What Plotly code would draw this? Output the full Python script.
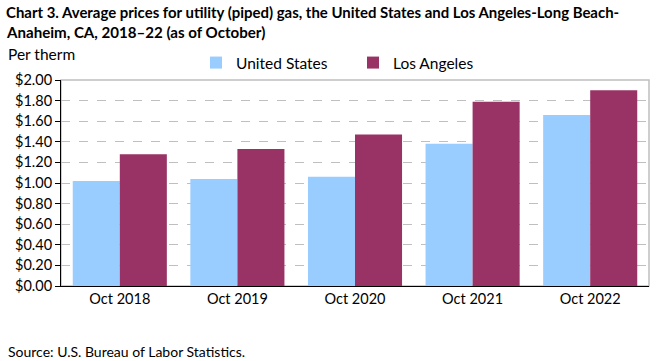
import plotly.graph_objects as go

categories = ["Oct 2018", "Oct 2019", "Oct 2020", "Oct 2021", "Oct 2022"]
us_values = [1.02, 1.04, 1.06, 1.38, 1.66]
la_values = [1.28, 1.33, 1.47, 1.79, 1.90]
y_ticks = [0, 0.2, 0.4, 0.6, 0.8, 1.0, 1.2, 1.4, 1.6, 1.8, 2.0]

FONT = "Lato"
W, H = 661, 361
ML, MR, MT, MB = 61, 12, 80, 75
PW, PH = W - ML - MR, H - MT - MB


def px_x(x):
    return (x - ML) / PW


def px_y(y):
    return (H - MB - y) / PH


fig = go.Figure()
fig.add_trace(go.Bar(x=categories, y=us_values, name="United States",
                     marker=dict(color="#99CCFF", line=dict(width=0))))
fig.add_trace(go.Bar(x=categories, y=la_values, name="Los Angeles",
                     marker=dict(color="#993366", line=dict(width=0))))

fig.update_layout(
    width=W, height=H,
    margin=dict(l=ML, r=MR, t=MT, b=MB, autoexpand=False),
    paper_bgcolor="white", plot_bgcolor="white",
    font=dict(family=FONT, size=14, color="#000000"),
    barmode="group", bargap=0.2, bargroupgap=0,
    legend=dict(orientation="h", x=px_x(196), xanchor="left", y=px_y(63), yanchor="middle",
                font=dict(family=FONT, size=15.5), traceorder="normal",
                entrywidth=112, entrywidthmode="pixels",
                bgcolor="rgba(0,0,0,0)", borderwidth=0),
    showlegend=True,
    xaxis=dict(showline=True, linecolor="#000000", linewidth=1, ticks="",
               tickfont=dict(family=FONT, size=14.5), showgrid=False, zeroline=False,
               automargin=False),
    yaxis=dict(range=[0, 2.0], tickvals=y_ticks, tickformat="$.2f",
               showline=True, linecolor="#000000", linewidth=1,
               ticks="outside", ticklen=5, tickcolor="#000000",
               showgrid=True, gridcolor="#BFBFBF", griddash="dash", gridwidth=1,
               zeroline=False, tickfont=dict(family=FONT, size=14.5), automargin=False),
    shapes=[dict(type="rect", xref="paper", yref="paper", x0=0, x1=1, y0=0, y1=1,
                 line=dict(color="#BFBFBF", width=1.5), layer="below")],
    annotations=[
        dict(text="<b>Chart 3. Average prices for utility (piped) gas, the United States and Los Angeles-Long Beach-</b>",
             xref="paper", yref="paper", x=px_x(4), y=px_y(12), xanchor="left", yanchor="middle",
             showarrow=False, font=dict(family=FONT, size=14.95)),
        dict(text="<b>Anaheim, CA, 2018–22 (as of October)</b>",
             xref="paper", yref="paper", x=px_x(4), y=px_y(32), xanchor="left", yanchor="middle",
             showarrow=False, font=dict(family=FONT, size=15.1)),
        dict(text="Per therm", xref="paper", yref="paper", x=px_x(6), y=px_y(54),
             xanchor="left", yanchor="middle", showarrow=False,
             font=dict(family=FONT, size=15.5)),
        dict(text="Source: U.S. Bureau of Labor Statistics.", xref="paper", yref="paper",
             x=px_x(6), y=px_y(351), xanchor="left", yanchor="middle", showarrow=False,
             font=dict(family=FONT, size=14)),
    ],
)

fig.write_html("out.html", config={"displayModeBar": False},
               post_script="document.body.style.margin='0';document.body.style.overflow='hidden';")
